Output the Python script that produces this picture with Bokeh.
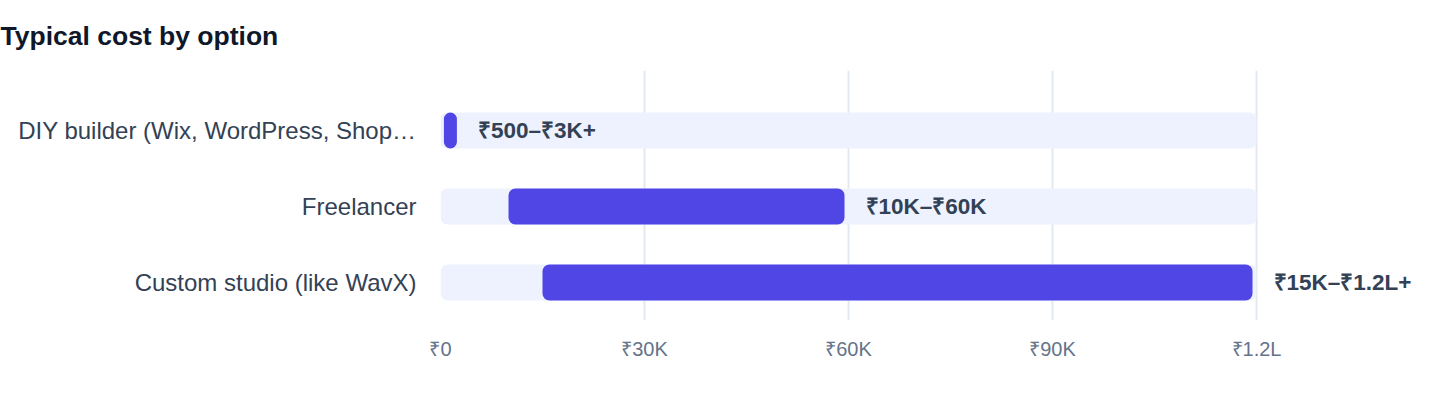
from bokeh.plotting import figure
from bokeh.models import ColumnDataSource, Range1d, FixedTicker, Title
from bokeh.embed import file_html
from bokeh.resources import INLINE

# ---- data ----
categories = ["DIY builder (Wix, WordPress, Shop…", "Freelancer", "Custom studio (like WavX)"]
low_cost = [500, 10000, 15000]
high_cost = [3000, 60000, 120000]
range_labels = ["₹500–₹3K+", "₹10K–₹60K", "₹15K–₹1.2L+"]
track_max = 120000
x_ticks = [0, 30000, 60000, 90000, 120000]
x_tick_labels = ["₹0", "₹30K", "₹60K", "₹90K", "₹1.2L"]

# ---- layout constants (pixels) ----
W, H = 1424, 392
FRAME_L, FRAME_R = 440, 1424
FRAME_T, FRAME_B = 70, 320
TRACK_PX = 816          # pixel length of the 0..track_max span
ROW_PX = 76
BAR_PX = 36
TOP_PAD_PX = 60
END_INSET_PX = 4

frame_w = FRAME_R - FRAME_L
frame_h = FRAME_B - FRAME_T
x_end = track_max * frame_w / TRACK_PX
px_per_unit = TRACK_PX / track_max
inset = END_INSET_PX / px_per_unit

ypos = list(range(len(categories)))
y_top = -TOP_PAD_PX / ROW_PX
y_bottom = y_top + frame_h / ROW_PX
bar_h = BAR_PX / ROW_PX

src = ColumnDataSource(dict(
    y=ypos,
    low=low_cost,
    high=[h - inset for h in high_cost],
    label_x=high_cost,
    track_left=[0] * len(categories),
    track_right=[track_max] * len(categories),
    label=range_labels,
))

p = figure(
    width=W, height=H,
    x_range=Range1d(0, x_end),
    y_range=Range1d(y_bottom, y_top),
    output_backend="svg",
    toolbar_location=None,
    min_border_left=FRAME_L, min_border_right=W - FRAME_R,
    min_border_top=FRAME_T, min_border_bottom=H - FRAME_B,
    outline_line_color=None,
    background_fill_color="white",
    border_fill_color="white",
)

p.title = Title(text="Typical cost by option", text_font="Liberation Sans",
                text_font_size="26.5px", text_font_style="bold",
                text_color="#0f172a", align="left", offset=-FRAME_L,
                vertical_align="top", standoff=36)

# track bars
p.hbar(y="y", left="track_left", right="track_right", height=bar_h, source=src,
       fill_color="#eef2ff", line_color=None, border_radius=7)
# value bars
p.hbar(y="y", left="low", right="high", height=bar_h, source=src,
       fill_color="#4f46e5", line_color=None, border_radius=7)
# range labels
p.text(x="label_x", y="y", text="label", source=src, x_offset=17,
       text_baseline="middle", text_align="left",
       text_font={"value": "Liberation Sans"}, text_font_size="22.5px",
       text_font_style="bold", text_color="#334155")

# x axis
p.xaxis.ticker = FixedTicker(ticks=x_ticks)
p.xaxis.major_label_overrides = {t: l for t, l in zip(x_ticks, x_tick_labels)}
p.xaxis.axis_line_color = None
p.xaxis.major_tick_line_color = None
p.xaxis.minor_tick_line_color = None
p.xaxis.major_label_standoff = 11
p.xaxis.major_label_text_font = "Liberation Sans"
p.xaxis.major_label_text_font_size = "20px"
p.xaxis.major_label_text_color = "#64748b"

# y axis
p.yaxis.ticker = FixedTicker(ticks=ypos)
p.yaxis.major_label_overrides = {i: c for i, c in zip(ypos, categories)}
p.yaxis.axis_line_color = None
p.yaxis.major_tick_line_color = None
p.yaxis.minor_tick_line_color = None
p.yaxis.major_label_standoff = 18
p.yaxis.major_label_text_font = "Liberation Sans"
p.yaxis.major_label_text_font_size = "24px"
p.yaxis.major_label_text_color = "#334155"

p.xgrid.grid_line_color = "#e2e8f0"
p.xgrid.grid_line_width = 2
p.ygrid.grid_line_color = None

open("out.html", "w").write(file_html(p, INLINE))
